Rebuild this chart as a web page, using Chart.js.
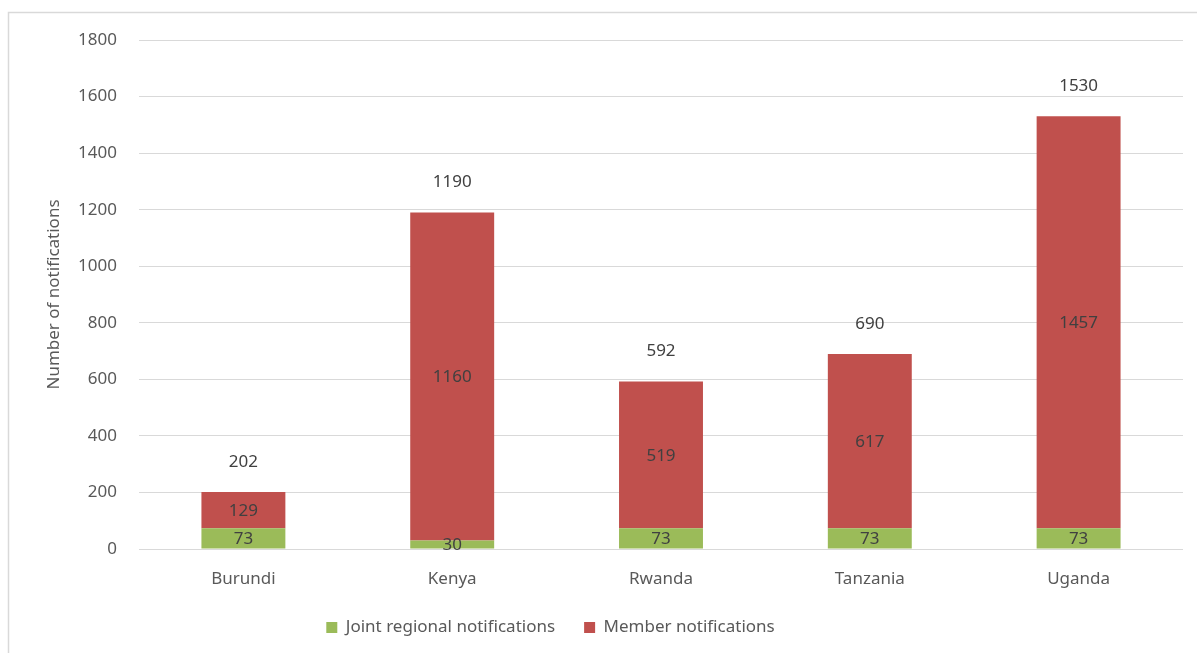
<!DOCTYPE html>
<html>
<head>
<meta charset="utf-8">
<script src="https://cdn.jsdelivr.net/npm/chart.js@4"></script>
<style>
  html, body { margin: 0; padding: 0; background: #fff; }
  #wrap { width: 1197px; height: 653px; }
</style>
</head>
<body>
<div id="wrap"><canvas id="notifChart"></canvas></div>
<script>
const countries = ['Burundi', 'Kenya', 'Rwanda', 'Tanzania', 'Uganda'];
const jointNotifications = [73, 30, 73, 73, 73];
const memberNotifications = [129, 1160, 519, 617, 1457];
const yTicks = [0, 200, 400, 600, 800, 1000, 1200, 1400, 1600, 1800];

const FONT = '"Noto Sans", "Open Sans", sans-serif';

// left + top edge of the chart frame (rest is cropped off in the source)
const framePlugin = {
  id: 'frame',
  beforeDraw(chart) {
    const c = chart.ctx;
    c.save();
    c.fillStyle = '#fff';
    c.fillRect(0, 0, chart.width, chart.height);
    c.strokeStyle = '#d9d9d9';
    c.lineWidth = 1.5;
    c.beginPath();
    c.moveTo(8.5, chart.height);
    c.lineTo(8.5, 12.5);
    c.lineTo(chart.width, 12.5);
    c.stroke();
    c.restore();
  }
};

// legend sits a bit left of centre in the source
const legendShift = {
  id: 'legendShift',
  afterLayout(chart) {
    chart.legend.left -= 61;
    chart.legend.right -= 61;
  }
};

// value labels in each segment plus totals on top
const labelPlugin = {
  id: 'barLabels',
  afterDatasetsDraw(chart) {
    const c = chart.ctx;
    c.save();
    c.font = '17px ' + FONT;
    c.fillStyle = '#404040';
    c.textAlign = 'center';
    c.textBaseline = 'middle';
    chart.data.datasets.forEach((ds, i) => {
      chart.getDatasetMeta(i).data.forEach((bar, j) => {
        const mid = (bar.y + bar.base) / 2;
        c.fillText(String(ds.data[j]), bar.x, mid + 1);
      });
    });
    const topMeta = chart.getDatasetMeta(1);
    topMeta.data.forEach((bar, j) => {
      const total = jointNotifications[j] + memberNotifications[j];
      c.fillText(String(total), bar.x, bar.y - 30);
    });
    c.restore();
  }
};

new Chart(document.getElementById('notifChart'), {
  type: 'bar',
  data: {
    labels: countries,
    datasets: [
      { label: 'Joint regional notifications', data: jointNotifications, backgroundColor: '#9bbb59' },
      { label: 'Member notifications', data: memberNotifications, backgroundColor: '#c0504d' }
    ]
  },
  options: {
    responsive: true,
    maintainAspectRatio: false,
    animation: false,
    events: [],
    barPercentage: 0.402,
    categoryPercentage: 1,
    layout: { padding: { left: 40, right: 14, top: 40, bottom: 7 } },
    plugins: {
      tooltip: { enabled: false },
      legend: {
        position: 'bottom',
        labels: {
          boxWidth: 11,
          boxHeight: 11,
          padding: 29,
          color: '#595959',
          font: { family: FONT, size: 17 }
        }
      }
    },
    scales: {
      x: {
        stacked: true,
        grid: { display: false },
        border: { display: false },
        ticks: { color: '#595959', font: { family: FONT, size: 17 }, padding: 12 },
        afterFit(s) { s.height = 41; }
      },
      y: {
        stacked: true,
        min: 0,
        max: 1800,
        afterBuildTicks(s) { s.ticks = yTicks.map(v => ({ value: v })); },
        grid: { color: '#d9d9d9', drawTicks: false },
        border: { display: false },
        ticks: {
          color: '#595959',
          font: { family: FONT, size: 17 },
          padding: 22,
          callback: v => String(v)
        },
        title: {
          display: true,
          text: 'Number of notifications',
          color: '#595959',
          font: { family: FONT, size: 17 }
        },
        afterFit(s) { s.width = 99; }
      }
    }
  },
  plugins: [framePlugin, legendShift, labelPlugin]
});
</script>
</body>
</html>
